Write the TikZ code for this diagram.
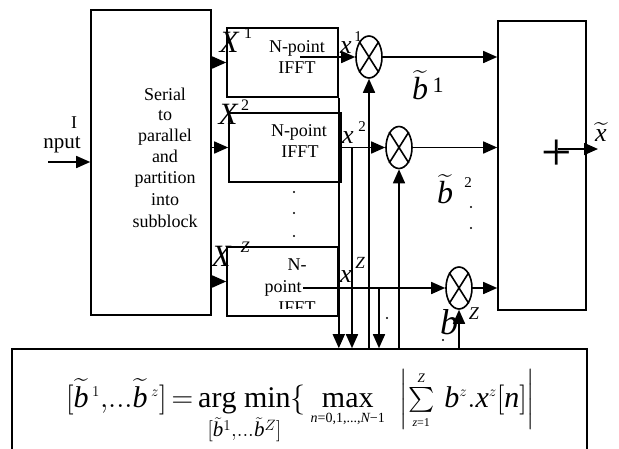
\RequirePackage{fix-cm}
\documentclass[tikz,border=0pt]{standalone}
\usepackage{exscale}
\usepackage{fontspec}
\setmainfont{Liberation Serif}
\usetikzlibrary{arrows.meta,shapes.geometric}
\newcommand{\smalltxt}[2]{\hbox{\fontsize{#1}{#1}\selectfont #2}}
\begin{document}
\begin{tikzpicture}[x=1pt,y=-1pt,
  ln/.style={line width=1.6pt},
  arr/.style={line width=1.6pt,-{Triangle[length=14pt,width=12pt]}},
  box/.style={draw,line width=1.6pt,inner sep=0pt,rectangle},
  mult/.style={draw,ellipse,line width=1.6pt,minimum width=26pt,minimum height=42pt,inner sep=0pt},
  txt/.style={inner sep=0pt,font=\fontsize{18}{21}\selectfont,anchor=base},
  lbl/.style={inner sep=0pt},
  dotc/.style={fill=black}
]
\clip (0,0) rectangle (619,448);
\fill[white] (0,0) rectangle (619,448);

% serial to parallel block
\node[box,minimum width=120pt,minimum height=305pt] (sp) at (151,162.5) {};
\foreach \t/\y [count=\i] in {Serial/100,to/120,parallel/141,and/162,partition/183,into/205,subblock/227}
  \node[txt] (s\i) at (165,\y) {\t};

% input
\coordinate (in) at (48,162);
\draw[arr] (in) -- (in -| sp.west);
\node[lbl,anchor=base,font=\fontsize{18}{18}\selectfont] (inI) at (74,128) {I};
\node[lbl,anchor=base,font=\fontsize{21}{21}\selectfont] (inN) at (62,148) {nput};

% IFFT blocks
\node[box,minimum width=111pt,minimum height=69pt] (f1) at (282.5,62.5) {};
\node[box,minimum width=112pt,minimum height=69pt] (f2) at (285,147.5) {};
\node[box,minimum width=111pt,minimum height=69pt] (f3) at (282.5,281.5) {};
\node[txt] (f1a) at (297,52) {N-point};
\node[txt] (f1b) at (297,73) {IFFT};
\node[txt] (f2a) at (299,136) {N-point};
\node[txt] (f2b) at (300,157) {IFFT};
\node[txt] (f3a) at (297,270) {N-};
\node[txt] (f3b) at (283,292) {point};
\begin{scope}
  \clip (228,248) rectangle (337,308);
  \node[txt] (f3c) at (297,313) {IFFT};
\end{scope}

% serial -> IFFT arrows
\draw[arr] (f1.west -| sp.east) -- (f1.west);
\draw[arr] (f2.west -| sp.east) -- (f2.west);
\draw[arr] (f3.west -| sp.east) -- (f3.west);

% multipliers
\node[mult] (m1) at (369,57) {};
\node[mult] (m2) at (399,147.5) {};
\node[mult] (m3) at (459,288) {};
\foreach \m in {m1,m2,m3}
  \draw[ln] (\m.north west) -- (\m.south east) (\m.north east) -- (\m.south west);

% summation block
\node[box,minimum width=88pt,minimum height=289pt] (sum) at (542,165.5) {};
\node[lbl,font=\fontsize{54}{54}\selectfont] (plus) at (557,155) {+};
\coordinate (o1) at (558,149);
\coordinate (o2) at (598,149);
\draw[arr] (o1) -- (o2);
\node[lbl,font=\fontsize{26}{26}\selectfont] (xo) at (601,132) {$\widetilde{\textit{x}}$};

% bottom optimisation block
\node[box,minimum width=575pt,minimum height=110pt] (bot) at (299.5,404) {};

% IFFT -> multipliers
\coordinate (c1) at (300,57);
\draw[arr] (c1) -- (m1.west);
\draw[arr] (f2.east) -- (m2.west);
\coordinate (c3) at (303,288);
\draw[arr] (c3) -- (m3.west);

% multipliers -> sum
\draw[arr] (m1.east) -- (m1.east -| sum.west);
\draw[arr] (m2.east) -- (m2.east -| sum.west);
\draw[arr] (m3.east) -- (m3.east -| sum.west);

% vertical lines to/from the bottom block
\draw[arr] (f1.south east) -- (f1.south east |- bot.north);
\coordinate (d2) at (352,147.5);
\draw[arr] (d2) -- (d2 |- bot.north);
\draw[arr] (m1.south |- bot.north) -- (m1.south);
\coordinate (d4) at (379,288);
\draw[arr] (d4) -- (d4 |- bot.north);
\draw[arr] (m2.south |- bot.north) -- (m2.south);
\draw[arr] (m3.south |- bot.north) -- (m3.south);

% labels X
\node[lbl,font=\fontsize{31}{31}\selectfont\itshape] (X1) at (229,42) {X};
\node[lbl,font=\fontsize{16}{16}\selectfont] (X1s) at (248,33) {1};
\node[lbl,font=\fontsize{31}{31}\selectfont\itshape] (X2) at (228,114) {X};
\node[lbl,font=\fontsize{16}{16}\selectfont] (X2s) at (245,105) {2};
\node[lbl,font=\fontsize{31}{31}\selectfont\itshape] (X3) at (221,256) {X};
\node[lbl,font=\fontsize{16}{16}\selectfont\itshape] (X3s) at (245,247) {Z};

% labels x
\node[lbl,font=\fontsize{26}{26}\selectfont\itshape] (x1) at (346,47.5) {x};
\node[lbl,font=\fontsize{15}{15}\selectfont] (x1s) at (358,37) {1};
\node[lbl,font=\fontsize{26}{26}\selectfont\itshape] (x2) at (348,138) {x};
\node[lbl,font=\fontsize{15}{15}\selectfont] (x2s) at (362,127) {2};
\node[lbl,font=\fontsize{26}{26}\selectfont\itshape] (x3) at (346,277) {x};
\node[lbl,font=\fontsize{17}{17}\selectfont\itshape] (x3s) at (360,263) {Z};

% labels b
\node[lbl,font=\fontsize{32}{32}\selectfont] (b1) at (420,85) {$\widetilde{\textit{b}}$};
\node[lbl,font=\fontsize{22}{22}\selectfont] (b1s) at (438,85) {1};
\node[lbl,font=\fontsize{32}{32}\selectfont] (b2) at (445,189) {$\widetilde{\textit{b}}$};
\node[lbl,font=\fontsize{15}{15}\selectfont] (b2s) at (468,183) {2};
\node[lbl,font=\fontsize{36}{36}\selectfont\itshape] (b3) at (449,322) {b};
\node[lbl,font=\fontsize{18}{18}\selectfont\itshape] (b3s) at (474,314) {Z};

% dots
\foreach \p in {(294,192),(294,213),(294,236),(471,207),(471,228),(387,318),(443,340)}
  \fill[dotc] \p circle (1.2);

% formula
\node[lbl,anchor=base west,font=\fontsize{30}{36}\selectfont] (eq) at (66,407)
 {$[\widetilde{\mathit{b}}^{\,\scriptscriptstyle 1},\!...\widetilde{\mathit{b}}^{\,\scriptscriptstyle z}]
  \mathrel{\mkern-2mu=\mkern-2mu} \mathop{\mathrm{arg}\ \mathrm{min}}\limits_{[\tilde{\mathit{b}}^{1},...\tilde{\mathit{b}}^{Z}]}\{\mkern3mu
  \mathop{\mathrm{max}}\limits_{\smalltxt{14}{\itshape n\upshape =0,1,...,\itshape N\upshape −1}}\mkern6mu
  \left|\sum\limits_{\smalltxt{12}{\itshape z\upshape =1}}^{\smalltxt{13}{\itshape Z}}\mkern3mu \mathit{b}^{\scriptscriptstyle z}.\mathit{x}^{\scriptscriptstyle z}[\mathit{n}]\right|$};
\end{tikzpicture}
\end{document}
